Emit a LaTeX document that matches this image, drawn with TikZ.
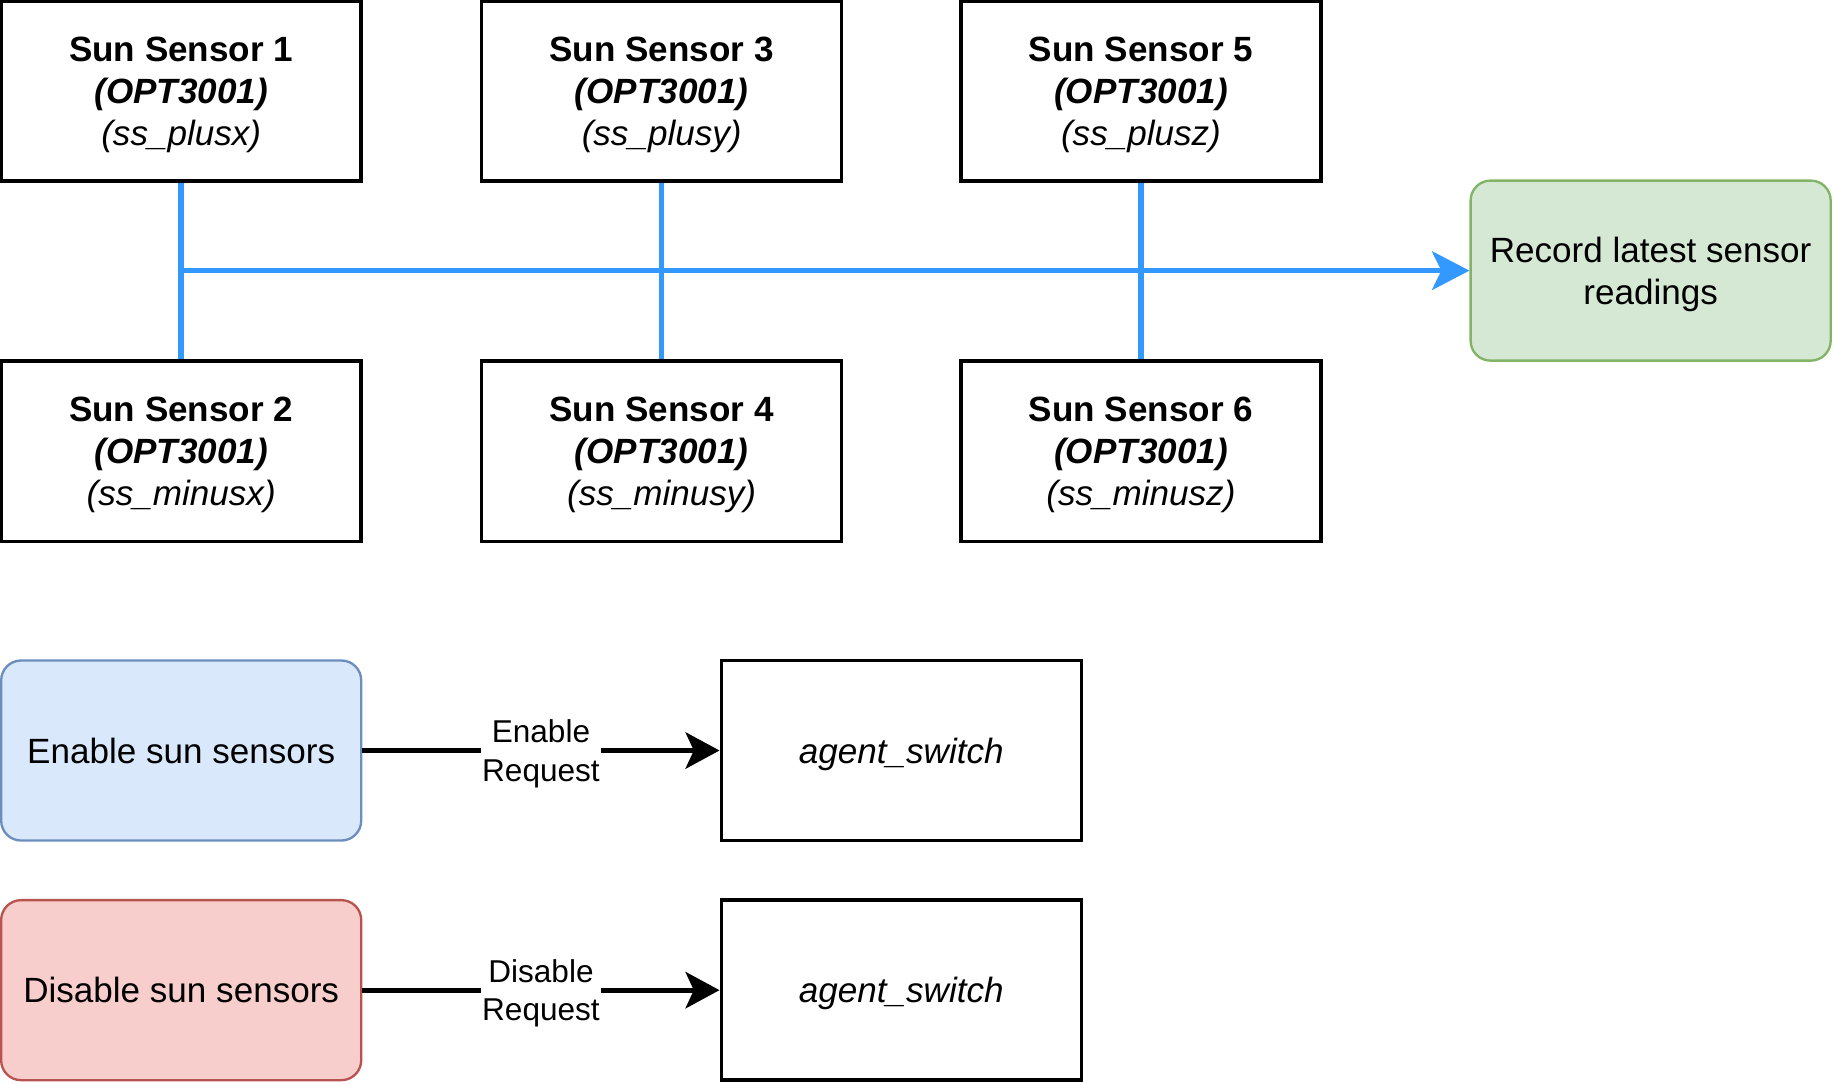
\documentclass[tikz,border=0pt]{standalone}
\usepackage{fontspec}
\setmainfont{Liberation Sans}
\usetikzlibrary{arrows.meta}
\definecolor{busblue}{HTML}{3399FF}
\definecolor{gfill}{HTML}{D5E8D4}
\definecolor{gline}{HTML}{82B366}
\definecolor{bfill}{HTML}{DAE8FC}
\definecolor{bline}{HTML}{6C8EBF}
\definecolor{rfill}{HTML}{F8CECC}
\definecolor{rline}{HTML}{B85450}
\begin{document}
\begin{tikzpicture}[x=1pt,y=-1pt,
  plainbox/.style={draw=black, line width=3pt, minimum width=308pt, minimum height=154pt, inner sep=0pt, align=center, font=\fontsize{30}{36}\selectfont, text depth=-4pt},
  roundbox/.style={line width=2pt, rounded corners=17pt, minimum width=308pt, minimum height=154pt, inner sep=0pt, align=center, font=\fontsize{30}{36}\selectfont},
  busline/.style={draw=busblue, line width=4.8pt},
  reqline/.style={draw=black, line width=4.5pt, -{Stealth[length=29pt, width=31pt, inset=7pt]}},
  reqlabel/.style={fill=white, inner sep=1pt, align=center, font=\fontsize{27}{33}\selectfont, text depth=-3pt}
]
\useasboundingbox (0,0) rectangle (1568,927);

\node[plainbox] (s1) at (155,78) {\textbf{Sun Sensor 1}\\\textbf{\itshape(OPT3001)}\\\textit{(ss\_plusx)}};
\node[plainbox] (s3) at (566,78) {\textbf{Sun Sensor 3}\\\textbf{\itshape(OPT3001)}\\\textit{(ss\_plusy)}};
\node[plainbox] (s5) at (976,78) {\textbf{Sun Sensor 5}\\\textbf{\itshape(OPT3001)}\\\textit{(ss\_plusz)}};
\node[plainbox] (s2) at (155,386) {\textbf{Sun Sensor 2}\\\textbf{\itshape(OPT3001)}\\\textit{(ss\_minusx)}};
\node[plainbox] (s4) at (566,386) {\textbf{Sun Sensor 4}\\\textbf{\itshape(OPT3001)}\\\textit{(ss\_minusy)}};
\node[plainbox] (s6) at (976,386) {\textbf{Sun Sensor 6}\\\textbf{\itshape(OPT3001)}\\\textit{(ss\_minusz)}};

\node[roundbox, draw=gline, fill=gfill, text depth=-4pt] (rec) at (1412,231.5) {Record latest sensor\\readings};

\draw[busline] (s1.south) -- (s2.north);
\draw[busline] (s3.south) -- (s4.north);
\draw[busline] (s5.south) -- (s6.north);
\coordinate (busstart) at (s1.south |- rec.west);
\draw[busline, -{Stealth[length=32pt, width=33pt, inset=8pt]}] (busstart) -- (rec.west);

\node[roundbox, draw=bline, fill=bfill] (en) at (155,642) {Enable sun sensors};
\node[roundbox, draw=rline, fill=rfill] (dis) at (155,847) {Disable sun sensors};
\node[plainbox] (ag1) at (771,642) {\textit{agent\_switch}};
\node[plainbox] (ag2) at (771,847) {\textit{agent\_switch}};

\draw[reqline] (en.east) -- node[reqlabel] {Enable\\Request} (ag1.west);
\draw[reqline] (dis.east) -- node[reqlabel] {Disable\\Request} (ag2.west);
\end{tikzpicture}
\end{document}
